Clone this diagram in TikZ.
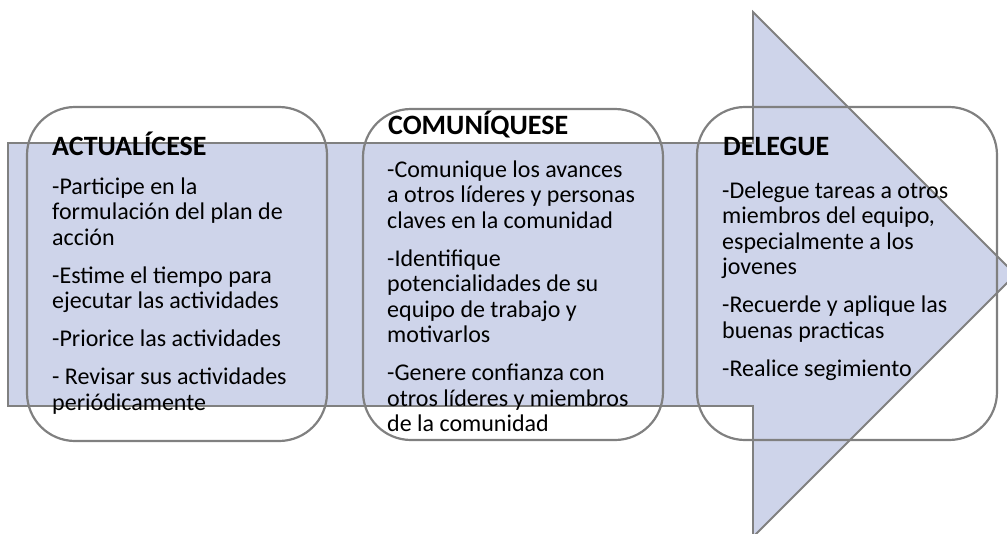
\documentclass[tikz,border=0pt]{standalone}
\usepackage{fontspec}
\setmainfont{Carlito}
\definecolor{arrowfill}{RGB}{206,212,234}
\definecolor{edgegray}{RGB}{128,128,128}
\newcommand{\bodytext}[1]{\parbox[t]{290pt}{\fontsize{24}{25.5}\selectfont\raggedright\setlength{\parindent}{0pt}\setlength{\parskip}{12.5pt}#1}}
\begin{document}
\begin{tikzpicture}[x=1pt,y=-1pt,
  stagebox/.style={draw=edgegray,line width=2.2pt,rounded corners=48pt},
  headtext/.style={anchor=base west,inner sep=0pt,font=\fontsize{28}{30}\selectfont\bfseries},
  listtext/.style={anchor=base west,inner sep=0pt}]
\useasboundingbox (0,0) rectangle (1007,533);
\begin{scope}
  \clip (0,0) rectangle (1007,533);
  \draw[fill=arrowfill,draw=edgegray,line width=1.8pt,line join=miter]
    (8,143) -- (753,143) -- (753,12) -- (1015.5,274.5) -- (753,537) -- (753,406) -- (8,406) -- cycle;
\end{scope}
\draw[stagebox] (27,107) rectangle (327,441);
\draw[stagebox] (363,109) rectangle (663,440);
\draw[stagebox] (697,107) rectangle (997,440);

\node[headtext] (h1) at (52,155) {ACTUALÍCESE};
\node[listtext] (t1) at (52,194) {\bodytext{-Participe en la\\formulación del plan de\\acción\par
-Estime el tiempo para\\ejecutar las actividades\par
-Priorice las actividades\par
- Revisar sus actividades\\periódicamente}};

\node[headtext] (h2) at (388,134) {COMUNÍQUESE};
\node[listtext] (t2) at (387,177) {\bodytext{-Comunique los avances\\a otros líderes y personas\\claves en la comunidad\par
-Identifique\\potencialidades de su\\equipo de trabajo y\\motivarlos\par
-Genere confianza con\\otros líderes y miembros\\de la comunidad}};

\node[headtext] (h3) at (723,155) {DELEGUE};
\node[listtext] (t3) at (722,198) {\bodytext{-Delegue tareas a otros\\miembros del equipo,\\especialmente a los\\jovenes\par
-Recuerde y aplique las\\buenas practicas\par
-Realice segimiento}};
\end{tikzpicture}
\end{document}
